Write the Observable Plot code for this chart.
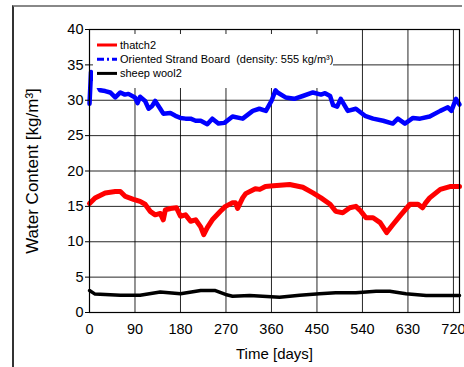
<!DOCTYPE html>
<html>
<head>
<meta charset="utf-8">
<script src="https://cdn.jsdelivr.net/npm/d3@7"></script>
<script src="https://cdn.jsdelivr.net/npm/@observablehq/plot@0.6"></script>
<style>
  html, body { margin: 0; padding: 0; background: #fff; width: 464px; height: 367px; overflow: hidden; }
  #outer { position: absolute; left: 12px; top: 5px; width: 448px; height: 370px; border-top: 2px solid #888; border-left: 2px solid #333; }
  #chart { position: absolute; left: 0; top: 0; }
  #legend { position: absolute; left: 93px; top: 34px; width: 240px; height: 54px; background: #fff; }
</style>
</head>
<body>
<div id="outer"></div>
<div id="chart"></div>
<div id="legend"></div>
<script>
// ---- data ----
const seriesNames = ["thatch2", "Oriented Strand Board  (density: 555 kg/m³)", "sheep wool2"];
const seriesColors = ["#ff0000", "#0000ff", "#000000"];
const xTicks = [0, 90, 180, 270, 360, 450, 540, 630, 720];
const yTicks = [0, 5, 10, 15, 20, 25, 30, 35, 40];
const xLabel = "Time [days]";
const yLabel = "Water Content [kg/m³]";

// [day, water content]
const thatch = [[0,15.4],[11,16.2],[31,16.9],[51,17.1],[61,17.1],[71,16.4],[87,16.0],[100,15.7],[110,15.3],[120,14.3],[130,13.8],[140,14.0],[146,13.1],[150,14.5],[160,14.7],[172,14.8],[180,13.6],[190,13.8],[200,12.9],[210,13.1],[220,12.1],[226,11.0],[233,12.0],[243,13.1],[259,14.3],[269,15.0],[283,15.5],[289,15.5],[293,14.7],[303,16.2],[309,16.8],[328,17.5],[337,17.4],[348,17.8],[364,17.9],[396,18.1],[422,17.7],[442,16.9],[458,16.2],[476,15.3],[487,14.3],[501,14.1],[515,14.8],[527,15.0],[537,14.3],[547,13.4],[561,13.4],[575,12.7],[588,11.3],[600,12.4],[616,13.8],[634,15.3],[650,15.3],[659,14.8],[665,15.5],[673,16.2],[694,17.4],[713,17.8],[732,17.8]];

const osb = [[0,29.5],[3,34.0],[21,31.4],[31,31.3],[41,31.1],[51,30.4],[61,31.1],[70,30.8],[77,30.9],[90,30.4],[95,29.6],[100,30.5],[110,29.9],[117,28.8],[124,29.2],[130,29.9],[140,28.8],[146,28.1],[160,28.2],[170,27.8],[180,27.5],[190,27.4],[200,27.4],[210,27.1],[220,27.1],[233,26.6],[243,27.4],[255,26.7],[267,26.8],[283,27.7],[303,27.4],[323,28.5],[336,28.8],[349,28.5],[360,29.9],[368,31.4],[372,31.1],[388,30.4],[405,30.2],[422,30.6],[442,31.1],[458,30.8],[466,31.0],[476,30.6],[482,29.3],[490,29.1],[497,30.2],[511,28.5],[527,28.8],[545,27.8],[561,27.4],[581,27.1],[600,26.7],[610,27.4],[624,26.7],[640,27.5],[654,27.4],[673,27.7],[694,28.5],[709,29.0],[716,28.5],[725,30.2],[732,29.4]];

const wool = [[0,3.1],[11,2.6],[61,2.45],[100,2.45],[140,2.9],[180,2.65],[220,3.1],[249,3.1],[269,2.55],[283,2.3],[317,2.4],[376,2.15],[416,2.45],[455,2.65],[487,2.8],[527,2.8],[567,3.0],[594,3.0],[626,2.65],[666,2.4],[732,2.4]];

const font = "'Liberation Sans', Arial, Helvetica, sans-serif";

const chart = Plot.plot({
  width: 464,
  height: 367,
  marginLeft: 89,
  marginRight: 5,
  marginTop: 29,
  marginBottom: 55,
  style: { fontFamily: font, color: "#000", background: "transparent", overflow: "visible" },
  x: { domain: [0, 732] },
  y: { domain: [0, 40] },
  marks: [
    Plot.gridX(xTicks, { stroke: "#000", strokeOpacity: 0.85, strokeWidth: 1 }),
    Plot.gridY(yTicks, { stroke: "#000", strokeOpacity: 0.85, strokeWidth: 1 }),
    Plot.line(wool, { x: d => d[0], y: d => d[1], stroke: seriesColors[2], strokeWidth: 3.5, strokeLinejoin: "round" }),
    Plot.line(thatch, { x: d => d[0], y: d => d[1], stroke: seriesColors[0], strokeWidth: 5, strokeLinejoin: "round" }),
    Plot.line(osb, { x: d => d[0], y: d => d[1], stroke: seriesColors[1], strokeWidth: 4.5, strokeLinejoin: "round" }),
    Plot.frame({ stroke: "#000", strokeWidth: 1.2 }),
    Plot.axisX(xTicks, { tickSize: 0, tickPadding: 11, fontSize: 14.5, label: null }),
    Plot.axisY(yTicks, { tickSize: 4, tickPadding: 2, fontSize: 14.5, label: null }),
    Plot.text([xLabel], { frameAnchor: "bottom", dy: 46, fontSize: 15 }),
    Plot.text([yLabel], { frameAnchor: "left", textAnchor: "middle", rotate: -90, dx: -57, fontSize: 17 })
  ]
});
document.getElementById("chart").appendChild(chart);

// legend
const legend = d3.select("#legend").append("svg")
  .attr("width", 240).attr("height", 54)
  .style("font-family", font).style("font-size", "11px");
const rows = legend.selectAll("g").data(seriesNames).join("g")
  .attr("transform", (d, i) => `translate(0, ${11 + i * 14.2})`);
rows.append("line")
  .attr("x1", 4).attr("x2", 24).attr("y1", 0).attr("y2", 0)
  .attr("stroke", (d, i) => seriesColors[i])
  .attr("stroke-width", 3)
  .attr("stroke-dasharray", (d, i) => i === 1 ? "7,3,2,3" : null);
rows.append("text")
  .attr("x", 27).attr("y", 0).attr("dy", "0.35em")
  .style("white-space", "pre")
  .attr("xml:space", "preserve")
  .text(d => d);
</script>
</body>
</html>
